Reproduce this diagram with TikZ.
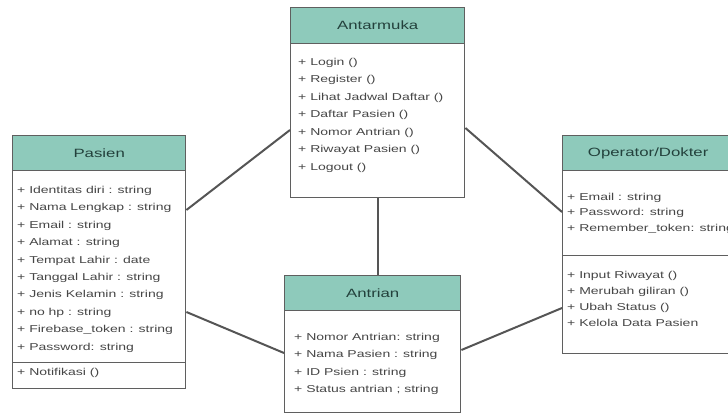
\documentclass[tikz,border=0pt]{standalone}
\usepackage{fontspec}
\newfontfamily\umlfont{Liberation Sans}[FakeStretch=1.4]
\definecolor{headteal}{RGB}{142,202,187}
\definecolor{boxgray}{RGB}{95,95,95}
\definecolor{headtext}{RGB}{35,65,60}
\definecolor{itemgray}{RGB}{70,70,70}
\definecolor{linkgray}{RGB}{85,85,85}

\begin{document}
\begin{tikzpicture}[
  x=1pt, y=-1pt,
  classhead/.style={draw=boxgray, fill=headteal, text=headtext, anchor=north west,
                    font=\umlfont\fontsize{12}{14}\selectfont, line width=0.5mm,
                    inner sep=0pt},
  classbody/.style={draw=boxgray, fill=white, anchor=north west, line width=0.5mm,
                    inner sep=0pt},
  itemtext/.style={text=itemgray, anchor=north west, align=left, inner sep=0pt,
                   font=\umlfont\fontsize{10}{17.4}\selectfont},
  link/.style={draw=linkgray, line width=0.7mm}
]
  \clip (0,0) rectangle (728,414);
  \fill[white] (0,0) rectangle (728,414);

  % Antarmuka
  \node[classbody, minimum width=174pt, minimum height=154pt] (antarmukabody) at (290,43) {};
  \node[classhead, minimum width=174pt, minimum height=36pt] (antarmukah) at (290,7) {Antarmuka};
  \node[itemtext, font=\umlfont\fontsize{10}{17.5}\selectfont] (antarmukatext)
    at ([xshift=8pt, yshift=-15pt]antarmukabody.north west)
    {+ Login ()\\+ Register ()\\+ Lihat Jadwal Daftar ()\\+ Daftar Pasien ()\\+ Nomor Antrian ()\\+ Riwayat Pasien ()\\+ Logout ()};

  % Pasien
  \node[classbody, minimum width=173pt, minimum height=192pt] (pasienattr) at (12,170) {};
  \node[classbody, minimum width=173pt, minimum height=26pt] (pasienmeth) at (12,362) {};
  \node[classhead, minimum width=173pt, minimum height=35pt] (pasienh) at (12,135) {Pasien};
  \node[itemtext] (pasienattrtext) at ([xshift=5pt, yshift=-16pt]pasienattr.north west)
    {+ Identitas diri : string\\+ Nama Lengkap : string\\+ Email : string\\+ Alamat : string\\+ Tempat Lahir : date\\+ Tanggal Lahir : string\\+ Jenis Kelamin : string\\+ no hp : string\\+ Firebase\_token : string\\+ Password: string};
  \node[itemtext] (pasienmethtext) at ([xshift=5pt, yshift=-6pt]pasienmeth.north west)
    {+ Notifikasi ()};

  % Operator/Dokter
  \node[classbody, minimum width=171pt, minimum height=85pt] (operatorattr) at (562,170) {};
  \node[classbody, minimum width=171pt, minimum height=98pt] (operatormeth) at (562,255) {};
  \node[classhead, minimum width=171pt, minimum height=35pt] (operatorh) at (562,135) {Operator/Dokter};
  \node[itemtext, font=\umlfont\fontsize{10}{15.5}\selectfont] (operatorattrtext)
    at ([xshift=5pt, yshift=-23pt]operatorattr.north west)
    {+ Email : string\\+ Password: string\\+ Remember\_token: string};
  \node[itemtext, font=\umlfont\fontsize{10}{16}\selectfont] (operatormethtext)
    at ([xshift=5pt, yshift=-16pt]operatormeth.north west)
    {+ Input Riwayat ()\\+ Merubah giliran ()\\+ Ubah Status ()\\+ Kelola Data Pasien};

  % Antrian
  \node[classbody, minimum width=176pt, minimum height=102pt] (antrianbody) at (284,310) {};
  \node[classhead, minimum width=176pt, minimum height=35pt] (antrianh) at (284,275) {Antrian};
  \node[itemtext, font=\umlfont\fontsize{10}{17.3}\selectfont] (antriantext)
    at ([xshift=10pt, yshift=-23pt]antrianbody.north west)
    {+ Nomor Antrian: string\\+ Nama Pasien : string\\+ ID Psien : string\\+ Status antrian ; string};

  % relations
  \draw[link] ([yshift=-40pt]pasienattr.north east) -- ([yshift=-87pt]antarmukabody.north west);
  \draw[link] ([yshift=-85pt]antarmukabody.north east) -- ([yshift=-42pt]operatorattr.north west);
  \draw[link] (antarmukabody.south) -- (antarmukabody.south |- antrianh.north);
  \draw[link] ([yshift=-142pt]pasienattr.north east) -- ([yshift=-43pt]antrianbody.north west);
  \draw[link] ([yshift=-40pt]antrianbody.north east) -- ([yshift=-53pt]operatormeth.north west);
\end{tikzpicture}
\end{document}
